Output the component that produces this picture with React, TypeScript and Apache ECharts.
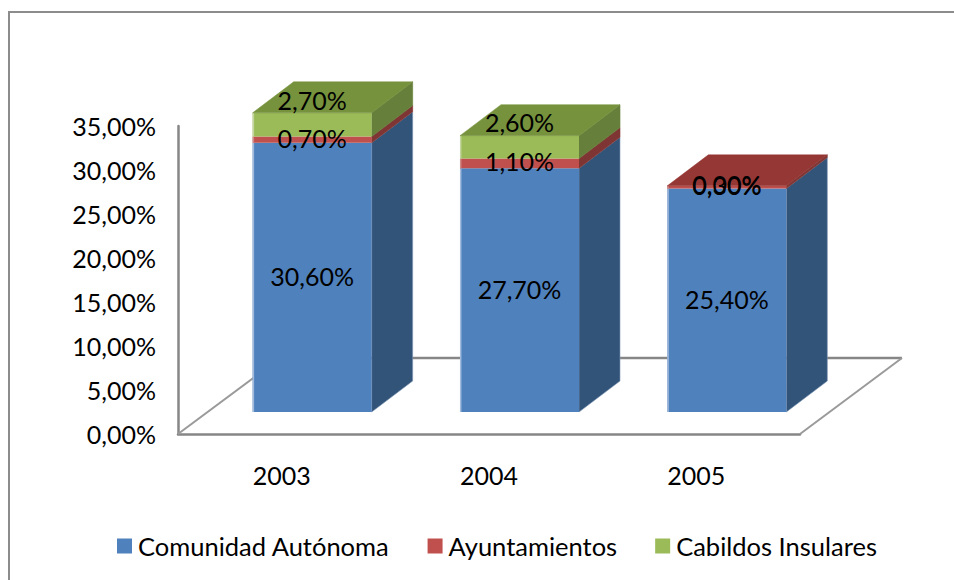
import React, { useEffect, useRef } from "react";
import * as echarts from "echarts";

const years = ["2003", "2004", "2005"];
const comunidad = [30.6, 27.7, 25.4];
const ayuntamientos = [0.7, 1.1, 0.3];
const cabildos = [2.7, 2.6, 0];
const seriesNames = ["Comunidad Autónoma", "Ayuntamientos", "Cabildos Insulares"];
const seriesValues = [comunidad, ayuntamientos, cabildos];
const yTicks = [0, 5, 10, 15, 20, 25, 30, 35];

const front = ["#4F81BD", "#C0504D", "#9BBB59"];
const side = ["#325479", "#7F3533", "#667F3B"];
const top = ["#3F6797", "#953735", "#76923C"];
const edge = ["#A3BCDB", "#D08A88", "#C4D69F"];
const labelLift = [1, 2, 25];

const FONT = "Lato, Carlito, Calibri, sans-serif";
const fmt = (v: number) => v.toFixed(2).replace(".", ",") + "%";

const DX = 41, DY = 31;
const OFF_X = 30.5, OFF_Y = -22;
const BAR_W = 119;
const FLOOR_DX = 102, FLOOR_DY = 76;

function stackedData(s: number) {
  return years.map((_, i) => {
    let base = 0;
    for (let k = 0; k < s; k++) base += seriesValues[k][i];
    const v = seriesValues[s][i];
    return [i, base, base + v, v];
  });
}

function renderBar(s: number) {
  return (params: any, api: any) => {
    const i = api.value(0);
    const base = api.value(1);
    const end = api.value(2);
    const v = api.value(3);
    const pb = api.coord([i, base]);
    const pe = api.coord([i, end]);
    const cx = pb[0] + OFF_X;
    const x0 = cx - BAR_W / 2;
    const x1 = cx + BAR_W / 2;
    const yb = pb[1] + OFF_Y;
    const ye = pe[1] + OFF_Y;
    const children: any[] = [];
    if (v > 0) {
      let isTop = true;
      for (let k = s + 1; k < seriesValues.length; k++) if (seriesValues[k][i] > 0) isTop = false;
      children.push({
        type: "polygon",
        shape: { points: [[x1, ye], [x1 + DX, ye - DY], [x1 + DX, yb - DY], [x1, yb]] },
        style: { fill: side[s], stroke: s === 0 ? "#7F97B5" : side[s], lineWidth: 0.6 },
      });
      children.push({
        type: "rect",
        shape: { x: x0, y: ye, width: BAR_W, height: yb - ye },
        style: { fill: front[s] },
      });
      children.push({
        type: "line",
        shape: { x1: x0 + 0.7, y1: ye, x2: x0 + 0.7, y2: yb },
        style: { stroke: edge[s], lineWidth: 1.5 },
      });
      if (isTop) {
        children.push({
          type: "polygon",
          shape: { points: [[x0, ye], [x0 + DX, ye - DY], [x1 + DX, ye - DY], [x1, ye]] },
          style: { fill: top[s], stroke: top[s], lineWidth: 0.5 },
        });
      }
    }
    return { type: "group", children };
  };
}

function renderLabel(s: number) {
  return (params: any, api: any) => {
    const i = api.value(0);
    const v = api.value(3);
    const pb = api.coord([i, api.value(1)]);
    const pe = api.coord([i, api.value(2)]);
    const lift = v > 0 ? labelLift[s] : 2;
    return {
      type: "text",
      style: {
        x: pb[0] + OFF_X,
        y: (pb[1] + pe[1]) / 2 + OFF_Y - lift,
        text: fmt(v),
        fill: "#000000",
        font: `25px ${FONT}`,
        align: "center",
        verticalAlign: "middle",
      },
    };
  };
}

function renderFloor(params: any, api: any) {
  const g = params.coordSys;
  const xl = g.x, xr = g.x + g.width, yb = g.y + g.height;
  const stroke = "#868686";
  return {
    type: "group",
    children: [
      {
        type: "line",
        shape: { x1: xl + FLOOR_DX, y1: yb - FLOOR_DY, x2: xr + FLOOR_DX, y2: yb - FLOOR_DY },
        style: { stroke, lineWidth: 2.5 },
      },
      {
        type: "line",
        shape: { x1: xl, y1: yb, x2: xl + FLOOR_DX, y2: yb - FLOOR_DY },
        style: { stroke: "#9A9A9A", lineWidth: 2 },
      },
      {
        type: "line",
        shape: { x1: xr, y1: yb, x2: xr + FLOOR_DX, y2: yb - FLOOR_DY },
        style: { stroke: "#9A9A9A", lineWidth: 2 },
      },
    ],
  };
}

export default function App() {
  const ref = useRef<HTMLDivElement>(null);
  useEffect(() => {
    const chart = echarts.init(ref.current!, undefined, { renderer: "svg" });
    chart.setOption({
      animation: false,
      backgroundColor: "#ffffff",
      textStyle: { fontFamily: FONT },
      grid: { left: 178, top: 126, width: 622, height: 308 },
      graphic: [
        {
          type: "polyline",
          shape: { points: [[9, 580], [9, 12], [954, 12]] },
          style: { fill: "none", stroke: "#8C8C8C", lineWidth: 2 },
          silent: true,
          z: -1,
        },
      ],
      legend: {
        data: seriesNames,
        left: 112,
        top: 528,
        itemWidth: 15,
        itemHeight: 15,
        itemGap: 38,
        icon: "rect",
        textStyle: { fontFamily: FONT, fontSize: 25.5, color: "#000000", padding: [0, 0, 0, 1] },
      },
      xAxis: {
        type: "category",
        data: years,
        axisLine: { show: true, lineStyle: { color: "#868686", width: 2.5 } },
        axisTick: { show: false },
        axisLabel: { color: "#000000", fontSize: 25, fontFamily: FONT, margin: 28 },
      },
      yAxis: {
        type: "value",
        min: yTicks[0],
        max: yTicks[yTicks.length - 1],
        interval: yTicks[1] - yTicks[0],
        splitLine: { show: false },
        axisLine: { show: true, lineStyle: { color: "#868686", width: 2.5 } },
        axisTick: { show: false },
        axisLabel: { color: "#000000", fontSize: 25, fontFamily: FONT, margin: 22, padding: [0, 0, 4, 0], formatter: (v: number) => fmt(v) },
      },
      series: [
        { type: "custom", name: "floor", z: 1, data: [[0, 0]], renderItem: renderFloor, encode: { x: 0, y: 1 }, silent: true },
        ...seriesNames.map((name, s) => ({
          type: "custom",
          name,
          z: 2 + s,
          itemStyle: { color: front[s] },
          data: stackedData(s),
          encode: { x: 0, y: [1, 2] },
          renderItem: renderBar(s),
        })),
        ...seriesNames.map((name, s) => ({
          type: "custom",
          name: name + " etiquetas",
          z: 10 + s,
          silent: true,
          data: stackedData(s),
          encode: { x: 0, y: [1, 2] },
          renderItem: renderLabel(s),
        })),
      ],
    });
    return () => chart.dispose();
  }, []);
  return <div ref={ref} style={{ position: "fixed", left: 0, top: 0, width: 954, height: 580 }} />;
}
